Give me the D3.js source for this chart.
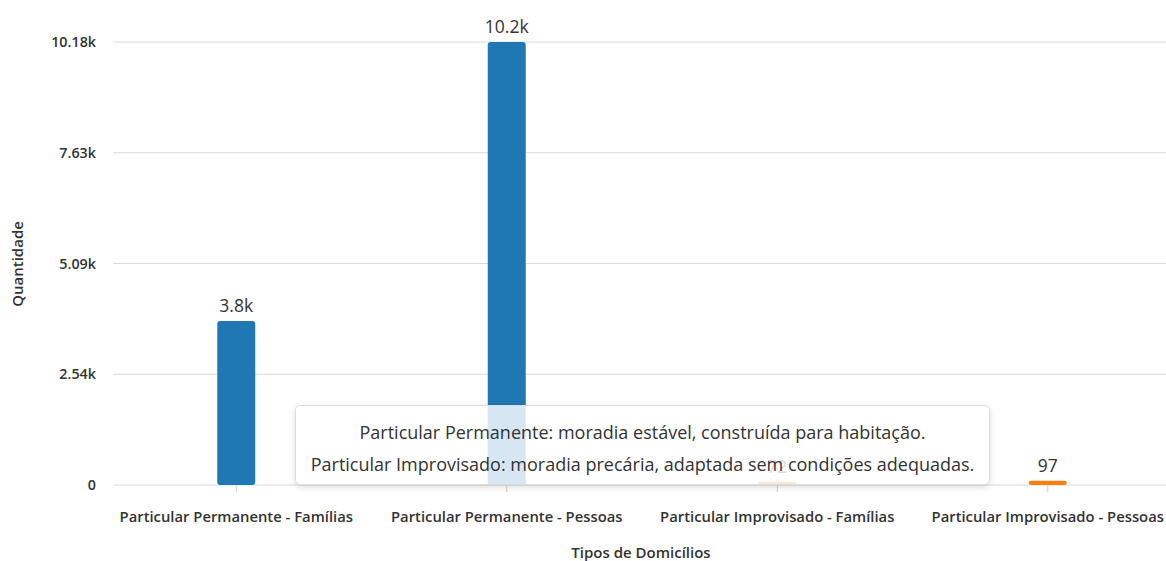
<!DOCTYPE html>
<html>
<head>
<meta charset="utf-8">
<script src="https://cdn.jsdelivr.net/npm/d3@7"></script>
<style>
  body { margin: 0; background: #fff; font-family: "Open Sans", "Noto Sans", sans-serif; }
  #chart { position: relative; width: 1166px; height: 561px; overflow: hidden; }
  .tip {
    position: absolute; background: rgba(255,255,255,0.82);
    border: 1px solid #ddd; border-radius: 5px;
    box-shadow: 0 2px 6px rgba(0,0,0,0.15);
    color: #333; font-size: 18px; text-align: center; line-height: 32px;
    padding: 10px 0 0 0; box-sizing: border-box;
  }
</style>
</head>
<body>
<div id="chart"></div>
<script>
var categories = ["Particular Permanente - Famílias", "Particular Permanente - Pessoas",
                  "Particular Improvisado - Famílias", "Particular Improvisado - Pessoas"]
var values = [3770, 10180, 72, 97]
var valueLabels = ["3.8k", "10.2k", "72", "97"]
var barColors = ["#1f77b4", "#1f77b4", "#ff7f0e", "#ff7f0e"]
var yTicks = [0, 2545, 5090, 7635, 10180]
var yTickLabels = ["0", "2.54k", "5.09k", "7.63k", "10.18k"]
var tipLines = ["Particular Permanente: moradia estável, construída para habitação.",
                "Particular Improvisado: moradia precária, adaptada sem condições adequadas."]

var width = 1166, height = 561

var svg = d3.select("#chart").append("svg")
  .attr("width", width)
  .attr("height", height)

var x = d3.scaleBand()
  .domain(categories)
  .range([101, 1183])

var y = d3.scaleLinear()
  .domain([0, 10180])
  .range([485, 42])

// grid
svg.append("g")
  .selectAll("line")
  .data(yTicks)
  .enter().append("line")
  .attr("x1", 113).attr("x2", width)
  .attr("y1", d => y(d)).attr("y2", d => y(d))
  .attr("stroke", "#d9d9d9")
  .attr("stroke-width", 1.2)

// y labels
svg.append("g")
  .selectAll("text")
  .data(yTicks)
  .enter().append("text")
  .attr("x", 96)
  .attr("y", d => y(d))
  .attr("dy", "0.35em")
  .attr("text-anchor", "end")
  .attr("font-size", 14.3)
  .attr("font-weight", 600)
  .attr("fill", "#333")
  .text((d, i) => yTickLabels[i])

// x ticks
var xAxis = svg.append("g")
xAxis.selectAll("line")
  .data(categories)
  .enter().append("line")
  .attr("x1", d => x(d) + x.bandwidth() / 2)
  .attr("x2", d => x(d) + x.bandwidth() / 2)
  .attr("y1", 485).attr("y2", 492)
  .attr("stroke", "#ccc")

xAxis.selectAll("text")
  .data(categories)
  .enter().append("text")
  .attr("x", d => x(d) + x.bandwidth() / 2)
  .attr("y", 522)
  .attr("text-anchor", "middle")
  .attr("font-size", 14.8)
  .attr("font-weight", 600)
  .attr("fill", "#333")
  .text(d => d)

// axis titles
svg.append("text")
  .attr("x", 641).attr("y", 558)
  .attr("text-anchor", "middle")
  .attr("font-size", 15)
  .attr("font-weight", 600)
  .attr("fill", "#333")
  .text("Tipos de Domicílios")

svg.append("text")
  .attr("transform", "translate(23,264) rotate(-90)")
  .attr("text-anchor", "middle")
  .attr("font-size", 15)
  .attr("font-weight", 600)
  .attr("fill", "#333")
  .text("Quantidade")

// bars
var barW = 38
var bars = svg.selectAll(".bar")
  .data(categories)
  .enter().append("g")

bars.append("rect")
  .attr("class", "bar")
  .attr("x", d => x(d) + x.bandwidth() / 2 - barW / 2)
  .attr("width", barW)
  .attr("y", (d, i) => y(values[i]))
  .attr("height", (d, i) => y(0) - y(values[i]))
  .attr("rx", (d, i) => Math.min(3, (y(0) - y(values[i])) / 2))
  .attr("fill", (d, i) => barColors[i])

bars.append("text")
  .attr("x", d => x(d) + x.bandwidth() / 2)
  .attr("y", (d, i) => y(values[i]) - 9)
  .attr("text-anchor", "middle")
  .attr("font-size", 17.5)
  .attr("font-weight", 500)
  .attr("fill", "#333")
  .text((d, i) => valueLabels[i])

// description box (sits over the chart, like in the reference)
d3.select("#chart").append("div")
  .attr("class", "tip")
  .style("left", "295px")
  .style("top", "405px")
  .style("width", "695px")
  .style("height", "80px")
  .selectAll("div")
  .data(tipLines)
  .enter().append("div")
  .text(d => d)
</script>
</body>
</html>
